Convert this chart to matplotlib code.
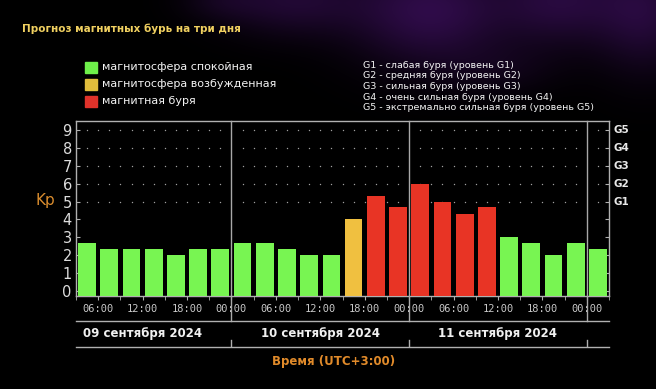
import numpy as np
import matplotlib
matplotlib.use("Agg")
import matplotlib.pyplot as plt
import matplotlib.transforms as mtransforms
from matplotlib.lines import Line2D

# ---------------- data ----------------
kp_values = [2.67, 2.33, 2.33, 2.33, 2.0, 2.33, 2.33,
             2.67, 2.67, 2.33, 2.0, 2.0, 4.0, 5.33, 4.67,
             6.0, 5.0, 4.33, 4.67, 3.0, 2.67, 2.0, 2.67,
             2.33]
start_hour = 3            # first bar begins 09 Sep 03:00
step_hours = 3
dates = ["09 сентября 2024", "10 сентября 2024", "11 сентября 2024"]
g_labels = ["G1", "G2", "G3", "G4", "G5"]
g_levels = [5, 6, 7, 8, 9]
g_legend = ["G1 - слабая буря (уровень G1)",
            "G2 - средняя буря (уровень G2)",
            "G3 - сильная буря (уровень G3)",
            "G4 - очень сильная буря (уровень G4)",
            "G5 - экстремально сильная буря (уровень G5)"]
legend_labels = ["магнитосфера спокойная", "магнитосфера возбужденная", "магнитная буря"]
title = "Прогноз магнитных бурь на три дня"

GREEN, YELLOW, RED = "#78f552", "#f0c040", "#e83425"
legend_colors = ["#6ef04a", "#e0bd3c", "#e0322a"]

W, H = 656, 389
fig = plt.figure(figsize=(W / 100, H / 100), dpi=100)
fig.patch.set_facecolor("black")

# ---------------- background nebula ----------------
bg = fig.add_axes([0, 0, 1, 1], zorder=0)
yy, xx = np.mgrid[0:H, 0:W]
blobs = [(290, 0, 70, 35, 0.30), (430, 10, 80, 55, 0.45), (560, 0, 60, 45, 0.35),
         (645, 10, 50, 60, 0.35), (500, 70, 60, 25, 0.10), (220, 0, 40, 20, 0.12)]
col = np.array([0.40, 0.10, 0.62])
inten = np.zeros((H, W))
for cx, cy, sx, sy, a in blobs:
    inten += a * np.exp(-(((xx - cx) / sx) ** 2 + ((yy - cy) / sy) ** 2))
inten = np.clip(inten, 0, 1)
img = inten[..., None] * col[None, None, :]
bg.imshow(img, extent=[0, W, H, 0], aspect="auto")
bg.set_xlim(0, W)
bg.set_ylim(H, 0)
bg.axis("off")

def fx(px):
    return px / W

def fy(py):
    return 1 - py / H

# ---------------- main axes ----------------
ax_l, ax_r, ax_t, ax_b = 76, 609, 121, 296
ax = fig.add_axes([fx(ax_l), fy(ax_b), fx(ax_r) - fx(ax_l), fy(ax_t) - fy(ax_b)], zorder=2)
ax.set_facecolor("black")
ymin, ymax = -0.28, 9.5
n = len(kp_values)
xmin = start_hour
xmax = start_hour + n * step_hours
ax.set_xlim(xmin, xmax)
ax.set_ylim(ymin, ymax)

centers = [start_hour + step_hours * (i + 0.5) for i in range(n)]
colors = []
for v in kp_values:
    if v < 4:
        colors.append(GREEN)
    elif v < 4.2:
        colors.append(YELLOW)
    else:
        colors.append(RED)
ax.bar(centers, [v - ymin for v in kp_values], bottom=ymin, width=step_hours * 0.8,
       color=colors, edgecolor="none", zorder=3)

# dotted grid (rows 5..9)
dot_x = np.arange(start_hour + 1.5, xmax, 1.5)
dot_x = [d for d in dot_x if d % 24 != 0]
for lv in g_levels:
    ax.scatter(dot_x, [lv] * len(dot_x), s=1.0, color="#a0a0a0", lw=0, zorder=1)

# day separators
trans = mtransforms.blended_transform_factory(ax.transData, ax.transAxes)
sep_depth = (321 - ax_b) / (ax_b - ax_t)
for d in range(24, xmax, 24):
    ax.add_line(Line2D([d, d], [-sep_depth, 1], transform=trans, color="#a8a8a8",
                       lw=1, clip_on=False, zorder=4))

for sp in ax.spines.values():
    sp.set_color("#b0b0b0")
    sp.set_linewidth(1)

ax.set_yticks(range(10))
ax.set_yticklabels([str(i) for i in range(10)], fontsize=10.5, color="#dcdcdc",
                   family="DejaVu Sans")
ax.tick_params(axis="y", which="both", direction="in", length=3, color="#b0b0b0",
               left=True, right=True, pad=3)

major = list(range(6, xmax + 1, 6))
ax.set_xticks(major)
ax.set_xticklabels([f"{h % 24:02d}:00" for h in major], fontsize=7.5, color="#c8c8c8",
                   family="DejaVu Sans Mono")
ax.set_xticks(list(range(xmin, xmax + 1, 3)), minor=True)
ax.tick_params(axis="x", which="both", direction="out", length=3, color="#b0b0b0", pad=3)

# G labels on the right
for lv, gl in zip(g_levels, g_labels):
    ax.text(1.008, lv, gl, transform=mtransforms.blended_transform_factory(ax.transAxes, ax.transData),
            fontsize=7.5, fontweight="bold", color="#e8e8e8", va="center", ha="left")

# Kp label
fig.text(fx(45), fy(201), "Kp", fontsize=11, color="#d98c2e", ha="center", va="center")

# ---------------- date band ----------------
band_t, band_b = 321, 347
bax = fig.add_axes([fx(ax_l), fy(band_b), fx(ax_r) - fx(ax_l), fy(band_t) - fy(band_b)], zorder=2)
bax.set_facecolor("none")
bax.set_xlim(xmin, xmax)
bax.set_ylim(0, 1)
for k in ["left", "right"]:
    bax.spines[k].set_visible(False)
for k in ["top", "bottom"]:
    bax.spines[k].set_color("#b0b0b0")
    bax.spines[k].set_linewidth(1)
bax.set_xticks([])
bax.set_yticks([])
for d in range(24, xmax, 24):
    bax.plot([d, d], [0, 0.27], color="#b0b0b0", lw=1)
for i, dl in enumerate(dates):
    bax.text(12 + 24 * i, 0.5, dl, ha="center", va="center", fontsize=8.5,
             fontweight="bold", color="#f0f0f0", clip_on=False)

fig.text(fx(334), fy(362), "Время (UTC+3:00)", fontsize=8.5, fontweight="bold",
         color="#e08a2a", ha="center", va="center")

# ---------------- title & legends ----------------
fig.text(fx(22), fy(29), title, fontsize=7.5, fontweight="bold", color="#f0d060",
         ha="left", va="center", zorder=5)

leg_y = [67, 84, 101]
for yv, c, lab in zip(leg_y, legend_colors, legend_labels):
    fig.patches.append(plt.Rectangle((fx(85), fy(yv + 6)), fx(12), 11 / H,
                                     transform=fig.transFigure, color=c, zorder=5))
    fig.text(fx(102), fy(yv), lab, fontsize=8, color="#f4f4f4", ha="left",
             va="center", zorder=5)

for i, gl in enumerate(g_legend):
    fig.text(fx(363), fy(65.5 + 10.5 * i), gl, fontsize=6.8, color="#f4f4f4",
             ha="left", va="center", zorder=5)

fig.savefig("out.png", dpi=100, facecolor="black")
